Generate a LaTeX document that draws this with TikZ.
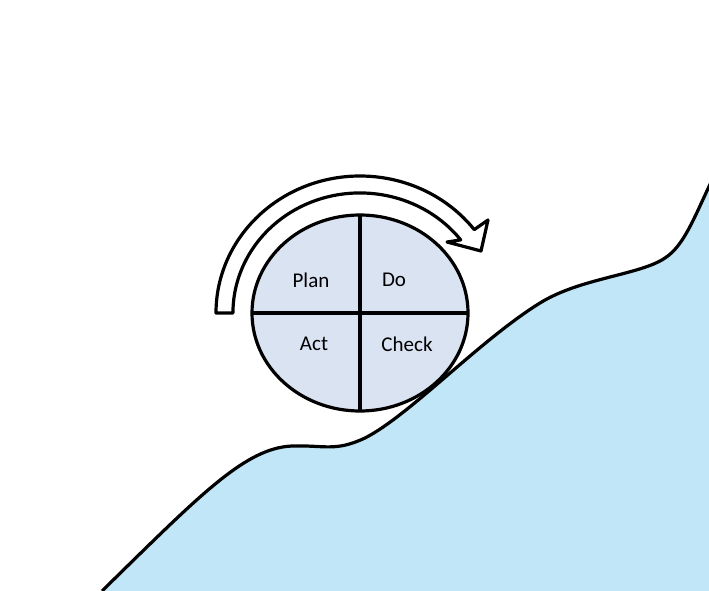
\documentclass[tikz,border=0pt]{standalone}
\usepackage{fontspec}
\setmainfont{Carlito}
\usetikzlibrary{shapes.geometric}
\definecolor{hillblue}{HTML}{C0E6F7}
\definecolor{wheelfill}{HTML}{DAE3F1}
\tikzset{
  outline/.style={draw=black, line width=3.2pt, line join=round},
  label/.style={font=\fontsize{21}{25}\selectfont, inner sep=0pt}
}
\begin{document}
\begin{tikzpicture}[x=1pt,y=-1pt]
\useasboundingbox (0,0) rectangle (709,591);
% hill
\def\hillpath{(102,591) .. controls (200,495) and (245,448) .. (292,446)
  .. controls (325,445) and (335,452) .. (365,438)
  .. controls (410,415) and (480,340) .. (540,303)
  .. controls (580,278) and (640,275) .. (665,258)
  .. controls (685,245) and (695,215) .. (714,176)}
\path[fill=hillblue] \hillpath -- (714,596) -- (96,596) -- cycle;
\draw[outline] \hillpath;
% curved arrow
\draw[outline, fill=white] (216,313) arc[start angle=180, end angle=322.5, x radius=144, y radius=137]
  -- (488,220) -- (481,251) -- (447,242) -- (460.7,239.9)
  arc[start angle=322.5, end angle=180, x radius=127, y radius=120] -- cycle;
% wheel
\node[ellipse, outline, fill=wheelfill, minimum width=216pt, minimum height=196pt, inner sep=0pt, outer sep=0pt] (wheel) at (360,313) {};
\draw[outline] (wheel.north) -- (wheel.south);
\draw[outline] (wheel.west) -- (wheel.east);
\node[label] (plan) at (311,280) {Plan};
\node[label] (do) at (394,280) {Do};
\node[label] (act) at (314,344) {Act};
\node[label] (check) at (407,344) {Check};
\end{tikzpicture}
\end{document}
